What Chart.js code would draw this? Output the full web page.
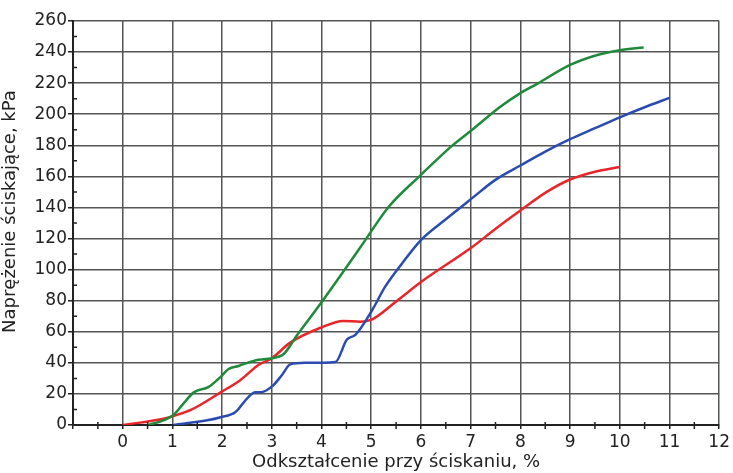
<!DOCTYPE html>
<html>
<head>
<meta charset="utf-8">
<script src="https://cdn.jsdelivr.net/npm/chart.js@4/dist/chart.umd.min.js"></script>
<style>
  html, body { margin: 0; padding: 0; background: #fff; }
  #wrap { width: 733px; height: 473px; }
</style>
</head>
<body>
<div id="wrap"><canvas id="myChart" width="733" height="473"></canvas></div>
<script>
const greenX = [0.52, 0.82, 1.02, 1.2, 1.43, 1.73, 1.97, 2.13, 2.33, 2.73, 3.21, 3.5, 4.0, 4.5, 4.88, 5.34, 6.0, 6.6, 7.03, 7.59, 8.0, 8.33, 9.0, 9.53, 10.0, 10.48]
const greenY = [0, 3, 6.4, 13, 21, 24.5, 31, 36, 38, 42, 45, 57.5, 79, 101.5, 119, 140, 161, 179, 190, 204.6, 213.6, 219.4, 231.7, 238, 241.2, 243]

const blueX = [1.02, 1.7, 1.97, 2.27, 2.5, 2.67, 2.77, 3.01, 3.2, 3.37, 3.67, 4.28, 4.51, 4.68, 5.02, 5.28, 5.62, 6.0, 6.43, 7.03, 7.49, 8.0, 8.5, 9.0, 9.5, 10.0, 10.5, 11.0]
const blueY = [0, 3, 5, 8.4, 17, 21, 21, 25, 32, 39, 40, 40.6, 55, 58, 74, 89, 104, 119, 130.6, 146, 157.6, 167, 176, 184, 191, 198, 204.5, 210.5]

const redX = [0, 0.82, 1.02, 1.37, 1.97, 2.37, 2.73, 3.0, 3.37, 3.98, 4.44, 4.78, 5.02, 5.52, 6.0, 7.03, 7.49, 8.0, 8.53, 9.0, 9.5, 10.0]
const redY = [0, 4, 5.8, 9.7, 21, 29, 38.6, 43, 53, 62.6, 67, 66.5, 68, 80, 92, 114.5, 126, 138, 150, 158, 163, 166]

const xTicks = [0, 1, 2, 3, 4, 5, 6, 7, 8, 9, 10, 11, 12]
const yTicks = [0, 20, 40, 60, 80, 100, 120, 140, 160, 180, 200, 220, 240, 260]

const toPts = (xs, ys) => xs.map((x, i) => ({x: x, y: ys[i]}))

const font = 'DejaVu Sans, Verdana, sans-serif'
const gridCol = '#555'

// male kreski na osiach (co 0.5 na X, co 10 na Y)
const minorTicks = {
    id: 'minorTicks',
    afterDraw(chart) {
        const {ctx, scales: {x, y}, chartArea: a} = chart
        ctx.save()
        ctx.strokeStyle = '#222'
        ctx.lineWidth = 1.5
        ctx.beginPath()
        for (let v = -0.5; v < 12; v += 1) {
            const px = x.getPixelForValue(v)
            ctx.moveTo(px, a.bottom - 3)
            ctx.lineTo(px, a.bottom + 4)
        }
        for (let v = 10; v < 260; v += 20) {
            const py = y.getPixelForValue(v)
            ctx.moveTo(a.left - 1, py)
            ctx.lineTo(a.left + 4, py)
        }
        ctx.stroke()
        ctx.restore()
    }
}

const ctx = document.getElementById('myChart').getContext('2d')
const myChart = new Chart(ctx, {
    type: 'scatter',
    data: {
        datasets: [
            {label: 'green', data: toPts(greenX, greenY), borderColor: '#1e8a3a'},
            {label: 'blue', data: toPts(blueX, blueY), borderColor: '#2a4cb0'},
            {label: 'red', data: toPts(redX, redY), borderColor: '#e8262a'}
        ]
    },
    options: {
        responsive: false,
        animation: false,
        layout: {padding: {top: 21, right: 13, left: 0, bottom: 0}},
        elements: {
            point: {radius: 0},
            line: {borderWidth: 2.5, cubicInterpolationMode: 'monotone'}
        },
        datasets: {scatter: {showLine: true}},
        plugins: {legend: {display: false}, tooltip: {enabled: false}},
        scales: {
            x: {
                min: -1, max: 12,
                afterFit: (s) => { s.height = 48 },
                afterBuildTicks: (s) => { s.ticks = [-1].concat(xTicks).map(v => ({value: v})) },
                ticks: {
                    color: '#222', font: {family: font, size: 17}, padding: 3,
                    callback: (v) => v < 0 ? '' : v
                },
                grid: {color: gridCol, lineWidth: 1.5, tickLength: 4, tickColor: '#222'},
                border: {color: '#222', width: 2},
                title: {display: true, text: 'Odkształcenie przy ściskaniu, %', color: '#222',
                        font: {family: font, size: 18}, padding: {top: 0, bottom: 0}}
            },
            y: {
                min: 0, max: 260,
                afterFit: (s) => { s.width = 73 },
                afterBuildTicks: (s) => { s.ticks = yTicks.map(v => ({value: v})) },
                ticks: {color: '#222', font: {family: font, size: 17}, padding: 1},
                grid: {color: gridCol, lineWidth: 1.5, tickLength: 5, tickColor: '#222'},
                border: {color: '#222', width: 2},
                title: {display: true, text: '\u00a0\u00a0\u00a0\u00a0Naprężenie ściskające, kPa', color: '#222',
                        font: {family: font, size: 18}, padding: {top: 0, bottom: 1}}
            }
        }
    },
    plugins: [minorTicks]
})
</script>
</body>
</html>
